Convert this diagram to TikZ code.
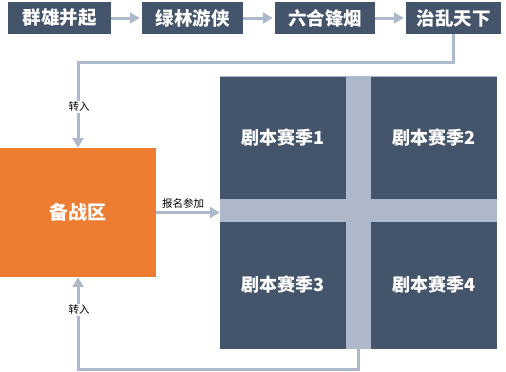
\documentclass[tikz,border=0pt]{standalone}
\usepackage{fontspec}
\setmainfont{Noto Sans CJK SC}
\usepackage{tikz}
\usetikzlibrary{positioning,arrows.meta,calc}
\definecolor{slate}{HTML}{44546A}
\definecolor{linegray}{HTML}{ADB9CA}
\definecolor{orangebox}{HTML}{ED7D31}

\begin{document}
\begin{tikzpicture}[
  x=1pt, y=-1pt,
  >={Triangle[length=10pt,width=11pt]},
  phase/.style={fill=slate, text=white, font=\fontsize{18.5}{20}\selectfont\bfseries, minimum height=32pt, inner sep=0pt},
  season/.style={fill=slate, text=white, font=\fontsize{18}{20}\selectfont\bfseries, minimum width=126pt, inner sep=0pt},
  link/.style={->, draw=linegray, line width=3pt},
  tag/.style={fill=white, text=black, font=\fontsize{10.5}{12}\selectfont, inner sep=1pt}
]
  \useasboundingbox (0,0) rectangle (506,372);
  \node[phase, minimum width=103pt] (p1) at (59.5,18) {群雄并起};
  \node[phase, minimum width=101pt] (p2) at (192.5,18) {绿林游侠};
  \node[phase, minimum width=100pt] (p3) at (325,18) {六合锋烟};
  \node[phase, minimum width=95pt] (p4) at (453.5,18) {治乱天下};
  \draw[link, shorten >=2pt] (p1) -- (p2);
  \draw[link, shorten >=2pt] (p2) -- (p3);
  \draw[link, shorten >=2pt] (p3) -- (p4);

  \node[fill=orangebox, text=white, font=\fontsize{19}{21}\selectfont\bfseries, minimum width=156pt, minimum height=129pt, inner sep=0pt] (prep) at (78,212.5) {备战区};

  \node[fill=linegray, minimum width=277pt, minimum height=273pt, inner sep=0pt] (grid) at (358.5,212.5) {};
  \node[season, minimum height=122pt] (s1) at (283,137.5) {剧本赛季1};
  \node[season, minimum height=122pt] (s2) at (434,137.5) {剧本赛季2};
  \node[season, minimum height=127pt] (s3) at (283,285) {剧本赛季3};
  \node[season, minimum height=127pt] (s4) at (434,285) {剧本赛季4};

  \coordinate (topbend) at (78,62);
  \coordinate (botbend) at (78,369);
  \draw[link] (p4.south) |- (topbend) -- (prep.north);
  \draw[link] (grid.south) |- (botbend) -- (prep.south);
  \draw[link] (prep.east) -- (grid.west);

  \node[tag] (in1) at (79,107) {转入};
  \node[tag] (in2) at (79,310) {转入};
  \node[tag] (join) at (183,203.5) {报名参加};
\end{tikzpicture}
\end{document}
